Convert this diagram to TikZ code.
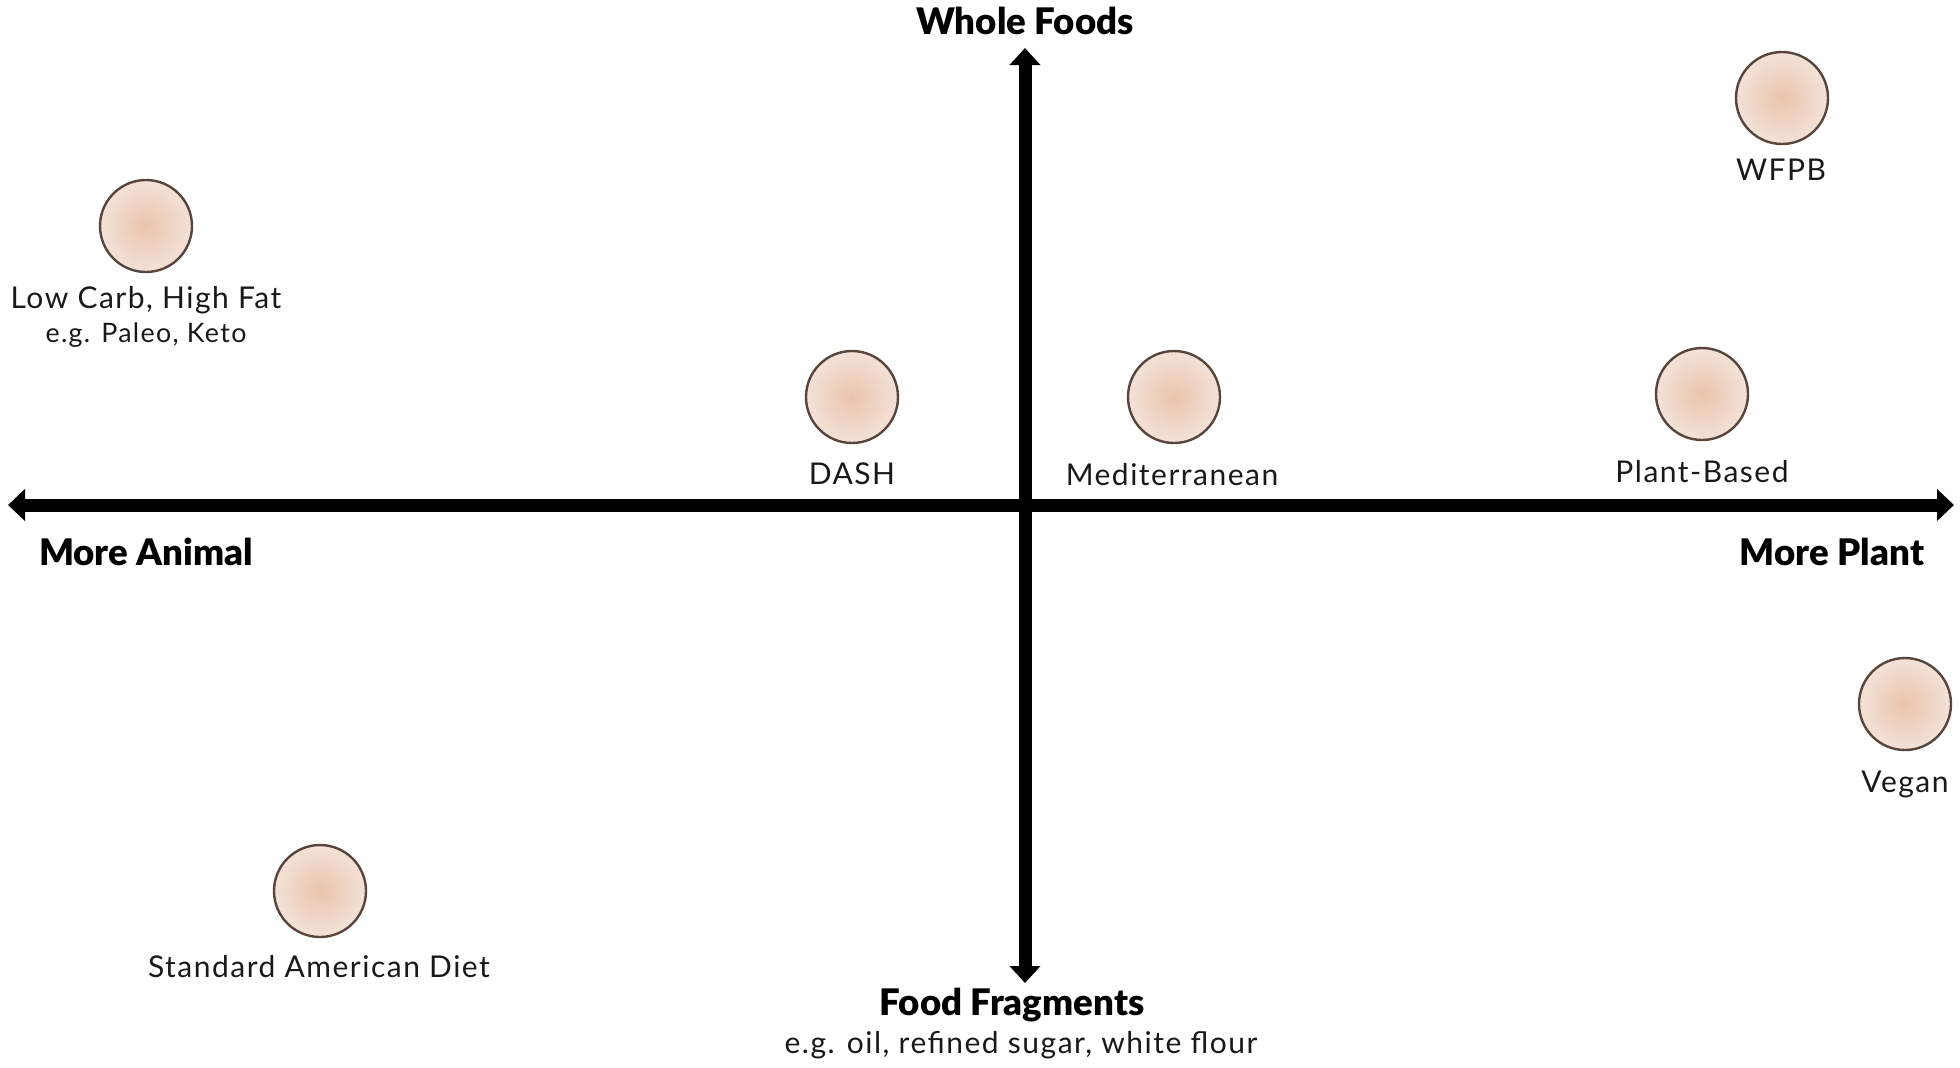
\documentclass[tikz,border=0pt]{standalone}
\usepackage{fontspec}
\setmainfont{Lato}[LetterSpace=5]
\newfontfamily\heavyfont{Lato Black}
\usetikzlibrary{arrows.meta}
\definecolor{ink}{RGB}{25,25,25}
\definecolor{rim}{RGB}{88,70,60}
\definecolor{core}{RGB}{234,196,172}
\definecolor{edge}{RGB}{243,226,216}
\tikzset{
  axis/.style={line width=6.5pt, draw=black, {Triangle[length=8.5pt,width=15.5pt]}-{Triangle[length=8.5pt,width=15.5pt]}},
  axisone/.style={line width=6.5pt, draw=black, -{Triangle[length=8.5pt,width=15pt]}},
  diet/.style={circle, draw=rim, line width=1.2pt, minimum size=46pt, inner sep=0pt, shading=radial, inner color=core, outer color=edge},
  lbl/.style={text=ink, font=\fontsize{15}{17}\selectfont, inner sep=0pt},
  sublbl/.style={text=ink, font=\fontsize{13.4}{15}\selectfont, inner sep=0pt},
  axlbl/.style={text=black, font=\heavyfont\fontsize{18.3}{20}\selectfont, inner sep=0pt}
}
\begin{document}
\begin{tikzpicture}[x=0.5pt,y=-0.5pt]
\useasboundingbox (0,0) rectangle (1960,1067);
% axes
\coordinate (left) at (8,505);
\coordinate (right) at (1954,505);
\coordinate (top) at (1025,48);
\coordinate (bottom) at (1025,983);
\coordinate (mid) at (1025,505);
\draw[axis] (left) -- (right);
\draw[axisone] (mid) -- (top);
\draw[axisone] (mid) -- (bottom);
% axis labels
\node[axlbl] (wf) at (1025,21) {Whole Foods};
\node[axlbl] (ma) at (146,552) {More Animal};
\node[axlbl] (mp) at (1832,552) {More Plant};
\node[axlbl] (ff) at (1012,1005) {Food Fragments};
\node[lbl] (ffs) at (1021,1045) {e.g. oil, refined sugar, white flour};
% diets
\node[diet] (lchf) at (146,226) {};
\node[lbl] (lchft) at (146,300) {Low Carb, High Fat};
\node[sublbl] (lchfs) at (146,335) {e.g. Paleo, Keto};
\node[diet] (wfpb) at (1782,98) {};
\node[lbl] (wfpbt) at (1781,170) {WFPB};
\node[diet] (dash) at (852,397) {};
\node[lbl] (dasht) at (852,474) {DASH};
\node[diet] (med) at (1174,397) {};
\node[lbl] (medt) at (1172,475) {Mediterranean};
\node[diet] (pb) at (1702,394) {};
\node[lbl] (pbt) at (1702,472) {Plant-Based};
\node[diet] (vegan) at (1905,704) {};
\node[lbl] (vegant) at (1905,784) {Vegan};
\node[diet] (sad) at (320,891) {};
\node[lbl] (sadt) at (319,967) {Standard American Diet};
\end{tikzpicture}
\end{document}
